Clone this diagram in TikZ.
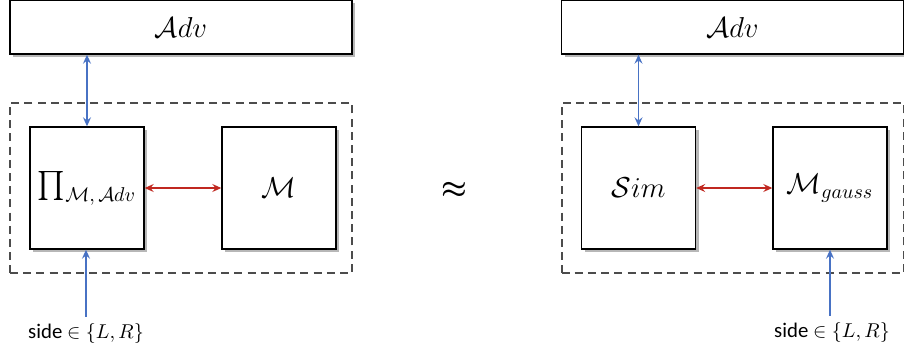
\documentclass[tikz,border=0pt]{standalone}
\usepackage{fontspec}
\setmainfont{Carlito}
\usepackage{amsmath,amssymb,bm}
\usetikzlibrary{arrows.meta}
\usetikzlibrary{positioning}
\usetikzlibrary{shadows}
\definecolor{linkblue}{RGB}{72,114,196}
\definecolor{linkred}{RGB}{192,40,32}
\tikzset {
  box/.style = {
    draw = black,
    line width = 0.7pt,
    fill = white,
    inner sep = 0,
    font = \fontsize{14.5}{17}\selectfont,
    drop shadow = {fill = black!40, opacity = 0.7,
      shadow xshift = 1.5pt, shadow yshift = -1.5pt}
  },
  % adversary bar on top
  advbox/.style = {
    box,
    minimum width = 171pt,
    minimum height = 27pt
  },
  % machine inside the frame
  unit/.style = {
    box,
    minimum width = 57pt,
    minimum height = 61pt
  },
  frame/.style = {
    draw = black!70,
    line width = 1pt,
    dash pattern = on 4pt off 2.6pt,
    minimum width = 171pt,
    minimum height = 85pt,
    inner sep = 0
  },
  sidelabel/.style = {
    font = \fontsize{10.4}{12}\selectfont,
    inner sep = 3pt
  },
  link/.style = {
    line width = 0.6pt,
    >= {Stealth[length = 4.5pt, width = 4pt, inset = 1.6pt]}
  },
  bluearr/.style = {
    link,
    draw = linkblue,
    <->
  },
  bluein/.style = {
    link,
    draw = linkblue,
    ->
  },
  redarr/.style = {
    link,
    draw = linkred,
    <->
  }
}

\begin{document}
\begin{tikzpicture}[x = 0.5pt, y = -0.5pt]
  \useasboundingbox (0,0) rectangle (904,354);

  % real world
  \node[frame] (frame-l) at (181,188) {};
  \node[advbox] (adv-l) at (181,27) {$\mathcal{A}dv$};
  \node[unit] (pi) at (87,188) {$\prod_{\mathcal{M},\,\mathcal{A}dv}$};
  \node[unit] (mech) at (279,188) {$\mathcal{M}$};
  \node[sidelabel] (side-l) at (86,333) {side $\in\{L,R\}$};

  \draw[bluearr] (pi.north) -- (pi.north |- adv-l.south);
  \draw[redarr] (pi) -- (mech);
  \draw[bluein] (side-l.north) -- (side-l.north |- pi.south);

  \node[font = \Large] (approx) at (454,190) {$\bm{\approx}$};

  % ideal world
  \node[frame] (frame-r) at (732.5,188) {};
  \node[advbox] (adv-r) at (732.5,27) {$\mathcal{A}dv$};
  \node[unit] (sim) at (638.5,188) {$\mathcal{S}im$};
  \node[unit] (gauss) at (830,188) {$\mathcal{M}_{gauss}$};
  \node[sidelabel] (side-r) at (832,332) {side $\in\{L,R\}$};

  \draw[bluearr] (sim.north) -- (sim.north |- adv-r.south);
  \draw[redarr] (sim) -- (gauss);
  \draw[bluein] (side-r.north -| gauss.south) -- (gauss.south);
\end{tikzpicture}
\end{document}
